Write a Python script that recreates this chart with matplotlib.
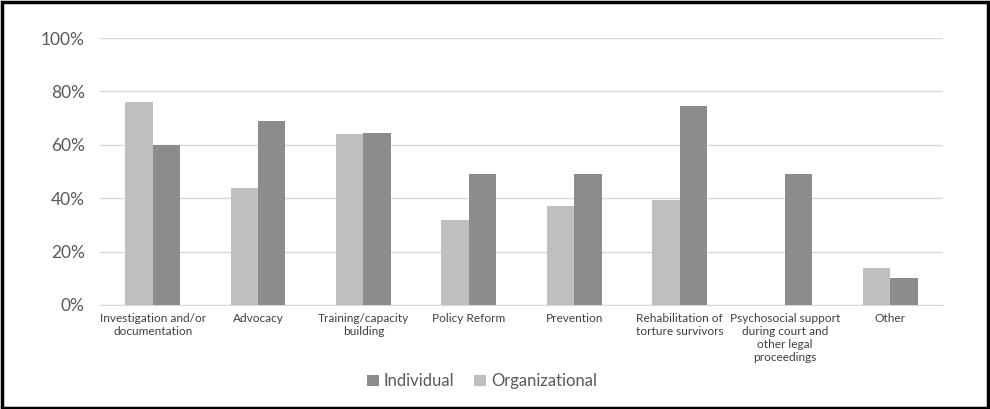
import matplotlib
matplotlib.use("Agg")
import matplotlib.pyplot as plt
import numpy as np
from matplotlib.patches import Rectangle
from matplotlib.ticker import PercentFormatter

categories = ["Investigation and/or\ndocumentation", "Advocacy", "Training/capacity\nbuilding",
              "Policy Reform", "Prevention", "Rehabilitation of\ntorture survivors",
              "Psychosocial support\nduring court and\nother legal\nproceedings", "Other"]
organizational = [76, 44, 64, 32, 37, 39.5, 0, 14]
individual = [60, 69, 64.5, 49, 49, 74.7, 49, 10]

plt.rcParams['font.family'] = ['Lato', 'DejaVu Sans']

fig = plt.figure(figsize=(9.9, 4.09), dpi=100)
ax = fig.add_axes([0.101, 0.2543, 0.8515, 0.6527])

x = np.arange(len(categories))
w = 0.26
ax.bar(x - w/2, np.array(organizational)/100, w, color="#BFBFBF", label="Organizational", zorder=3)
ax.bar(x + w/2, np.array(individual)/100, w, color="#8C8C8C", label="Individual", zorder=3)

ax.set_xlim(-0.5, len(categories) - 0.5)
ax.set_ylim(0, 1.0)
ax.set_yticks(np.arange(0, 1.01, 0.2))
ax.yaxis.set_major_formatter(PercentFormatter(1.0, decimals=0))
ax.grid(axis='y', color="#D9D9D9", linewidth=1, zorder=0)
for s in ['top', 'right', 'left']:
    ax.spines[s].set_visible(False)
ax.spines['bottom'].set_color("#D9D9D9")
ax.tick_params(axis='y', length=0, labelsize=12.5, labelcolor="#595959", pad=11)
ax.tick_params(axis='x', length=0, labelsize=8.6, labelcolor="#404040", pad=6)
ax.set_xticks(x)
ax.set_xticklabels(categories, linespacing=1.2)

handles, labels = ax.get_legend_handles_labels()
fig.legend([handles[1], handles[0]], [labels[1], labels[0]], loc='center',
           bbox_to_anchor=(0.487, 0.068), ncol=2, frameon=False, fontsize=12,
           handlelength=0.7, handleheight=0.7, handletextpad=0.3, columnspacing=1.2,
           labelcolor="#595959")

fig.patches.append(Rectangle((0.002, 0.003), 0.996, 0.993, transform=fig.transFigure,
                             fill=False, edgecolor="black", linewidth=2.5))

fig.savefig("out.png", dpi=100)
